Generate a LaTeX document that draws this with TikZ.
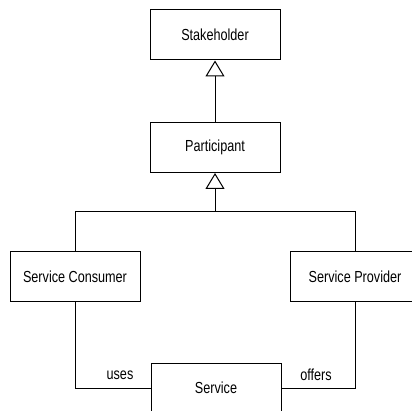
\documentclass[tikz,border=0pt]{standalone}
\usepackage{fontspec}
\setmainfont{Liberation Sans}[FakeStretch=0.79]
\usetikzlibrary{arrows.meta}
\begin{document}
\begin{tikzpicture}[x=1pt,y=-1pt,
  classbox/.style={draw,line width=1pt,minimum width=130pt,minimum height=50pt,
    inner sep=0pt,font=\fontsize{16}{19}\selectfont,fill=white},
  link/.style={draw,line width=1pt},
  generalize/.style={link,-{Triangle[open,length=16pt,width=19pt,line width=1pt]}},
  rolelabel/.style={font=\fontsize{16}{19}\selectfont,inner sep=0pt}]
\useasboundingbox (0,0) rectangle (412,411);
\clip (0,0) rectangle (412,411);
% classes
\node[classbox] (stake) at (215,35) {Stakeholder};
\node[classbox] (part) at (215,147.5) {Participant};
\node[classbox] (cons) at (75,276.5) {Service Consumer};
\node[classbox] (prov) at (355,276.5) {Service Provider};
\node[classbox] (serv) at (216,388) {Service};
% generalisation arrows
\draw[generalize] (part.north) -- (stake.south);
\coordinate (join) at (215,212);
\coordinate (joinL) at (75,212);
\coordinate (joinR) at (355,212);
\draw[generalize] (join) -- (part.south);
\draw[link] (cons.north) -- (joinL) -- (joinR) -- (prov.north);
% associations
\draw[link] (cons.south) |- (serv.west);
\draw[link] (prov.south) |- (serv.east);
\node[rolelabel] (uses) at (120,375) {uses};
\node[rolelabel] (offers) at (316,375) {offers};
\end{tikzpicture}
\end{document}
